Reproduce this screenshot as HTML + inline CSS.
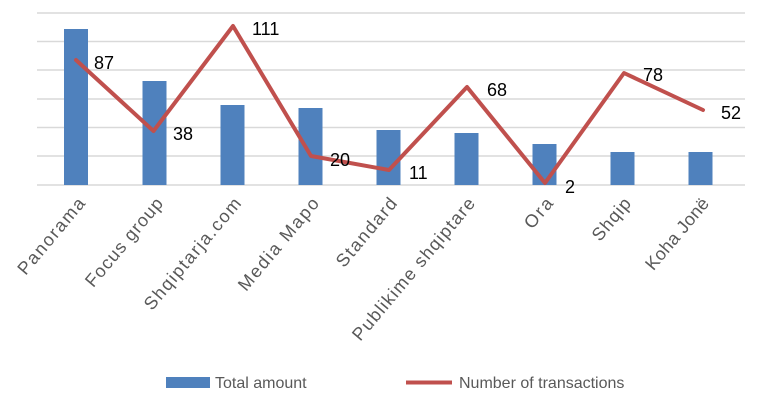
<!DOCTYPE html><html><head><meta charset="utf-8"><style>body{margin:0;background:#fff}</style></head><body>
<svg width="761" height="408" xmlns="http://www.w3.org/2000/svg" font-family="Liberation Sans, sans-serif">
<g stroke="#d9d9d9" stroke-width="1.5">
<line x1="37" x2="745" y1="13" y2="13"/><line x1="37" x2="745" y1="41.5" y2="41.5"/><line x1="37" x2="745" y1="70" y2="70"/><line x1="37" x2="745" y1="99" y2="99"/><line x1="37" x2="745" y1="127.5" y2="127.5"/><line x1="37" x2="745" y1="156" y2="156"/><line x1="37" x2="745" y1="185" y2="185"/>
</g>
<g fill="#4f81bd">
<rect x="64" y="29" width="24" height="156"/>
<rect x="142.5" y="81" width="24" height="104"/>
<rect x="220.5" y="105" width="24" height="80"/>
<rect x="298.5" y="108" width="24" height="77"/>
<rect x="376.5" y="130" width="24" height="55"/>
<rect x="454.5" y="133" width="24" height="52"/>
<rect x="532.5" y="144" width="24" height="41"/>
<rect x="610.5" y="152" width="24" height="33"/>
<rect x="688.5" y="152" width="24" height="33"/>
</g>
<polyline fill="none" stroke="#c0504d" stroke-width="4" stroke-linejoin="round" stroke-linecap="round" points="76,60 153.5,131 233,26 311,156 389,170 467,87 545,183 624,73 703,110"/>
<g font-size="18" fill="#000">
<text x="94" y="69">87</text><text x="173" y="140">38</text><text x="252" y="35">111</text><text x="330" y="166">20</text><text x="409" y="179">11</text><text x="487" y="96">68</text><text x="565" y="193">2</text><text x="643" y="81">78</text><text x="721" y="119">52</text>
</g>
<g font-size="18" fill="#595959" text-anchor="end">
<text transform="translate(86,204) rotate(-50)" textLength="94">Panorama</text>
<text transform="translate(164,204) rotate(-50)" textLength="110">Focus group</text>
<text transform="translate(242,204) rotate(-50)" textLength="140">Shqiptarja.com</text>
<text transform="translate(320,204) rotate(-50)" textLength="115">Media Mapo</text>
<text transform="translate(398,204) rotate(-50)" textLength="84">Standard</text>
<text transform="translate(476,204) rotate(-50)" textLength="180">Publikime shqiptare</text>
<text transform="translate(554,204) rotate(-50)" textLength="34">Ora</text>
<text transform="translate(632,204) rotate(-50)" textLength="50">Shqip</text>
<text transform="translate(710,204) rotate(-50)" textLength="88">Koha Jonë</text>
</g>
<rect x="166" y="377" width="44" height="11" fill="#4f81bd"/>
<text x="215" y="388" font-size="16" fill="#595959">Total amount</text>
<line x1="406" x2="452" y1="382.5" y2="382.5" stroke="#c0504d" stroke-width="4"/>
<text x="459" y="388" font-size="16" fill="#595959">Number of transactions</text>
</svg>
</body></html>
